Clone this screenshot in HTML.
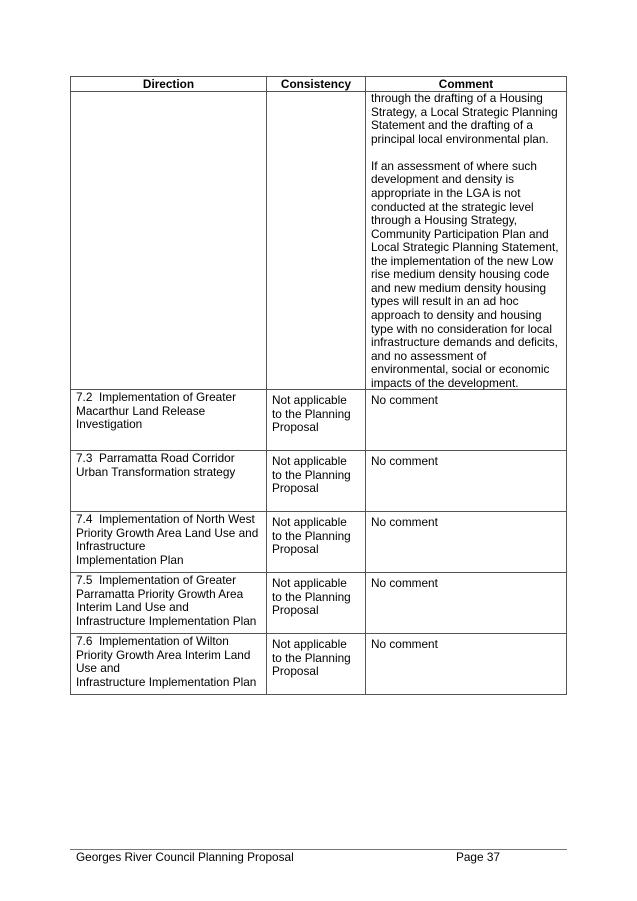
<!DOCTYPE html>
<html><head><style>
body{margin:0;width:637px;height:901px;background:#fff;position:relative;font-family:"Liberation Sans",Arial,sans-serif;font-size:11.8px;color:#000;overflow:hidden}
.h{position:absolute;background:#555}
.t{position:absolute;line-height:13.57px;white-space:nowrap}
.b{font-weight:bold;text-align:center}
</style></head><body>
<div class="h" style="left:70px;top:76px;width:497px;height:1px"></div>
<div class="h" style="left:70px;top:91px;width:497px;height:1px"></div>
<div class="h" style="left:70px;top:389px;width:497px;height:1px"></div>
<div class="h" style="left:70px;top:450px;width:497px;height:1px"></div>
<div class="h" style="left:70px;top:511px;width:497px;height:1px"></div>
<div class="h" style="left:70px;top:572px;width:497px;height:1px"></div>
<div class="h" style="left:70px;top:633px;width:497px;height:1px"></div>
<div class="h" style="left:70px;top:694px;width:497px;height:1px"></div>
<div class="h" style="left:70px;top:76px;width:1px;height:619px"></div>
<div class="h" style="left:266px;top:76px;width:1px;height:619px"></div>
<div class="h" style="left:365px;top:76px;width:1px;height:619px"></div>
<div class="h" style="left:566px;top:76px;width:1px;height:619px"></div>

<div class="t b" style="left:71px;top:78px;width:195px">Direction</div>
<div class="t b" style="left:267px;top:78px;width:98px">Consistency</div>
<div class="t b" style="left:366px;top:78px;width:200px">Comment</div>

<div class="t" style="left:371px;top:92px">through the drafting of a Housing<br>Strategy, a Local Strategic Planning<br>Statement and the drafting of a<br>principal local environmental plan.<br><br>If an assessment of where such<br>development and density is<br>appropriate in the LGA is not<br>conducted at the strategic level<br>through a Housing Strategy,<br>Community Participation Plan and<br>Local Strategic Planning Statement,<br>the implementation of the new Low<br>rise medium density housing code<br>and new medium density housing<br>types will result in an ad hoc<br>approach to density and housing<br>type with no consideration for local<br>infrastructure demands and deficits,<br>and no assessment of<br>environmental, social or economic<br>impacts of the development.</div>

<div class="t" style="left:76px;top:391px">7.2&nbsp; Implementation of Greater<br>Macarthur Land Release<br>Investigation</div>
<div class="t" style="left:272px;top:394px">Not applicable<br>to the Planning<br>Proposal</div>
<div class="t" style="left:371px;top:394px">No comment</div>

<div class="t" style="left:76px;top:452px">7.3&nbsp; Parramatta Road Corridor<br>Urban Transformation strategy</div>
<div class="t" style="left:272px;top:455px">Not applicable<br>to the Planning<br>Proposal</div>
<div class="t" style="left:371px;top:455px">No comment</div>

<div class="t" style="left:76px;top:513px">7.4&nbsp; Implementation of North West<br>Priority Growth Area Land Use and<br>Infrastructure<br>Implementation Plan</div>
<div class="t" style="left:272px;top:516px">Not applicable<br>to the Planning<br>Proposal</div>
<div class="t" style="left:371px;top:516px">No comment</div>

<div class="t" style="left:76px;top:574px">7.5&nbsp; Implementation of Greater<br>Parramatta Priority Growth Area<br>Interim Land Use and<br>Infrastructure Implementation Plan</div>
<div class="t" style="left:272px;top:577px">Not applicable<br>to the Planning<br>Proposal</div>
<div class="t" style="left:371px;top:577px">No comment</div>

<div class="t" style="left:76px;top:635px">7.6&nbsp; Implementation of Wilton<br>Priority Growth Area Interim Land<br>Use and<br>Infrastructure Implementation Plan</div>
<div class="t" style="left:272px;top:638px">Not applicable<br>to the Planning<br>Proposal</div>
<div class="t" style="left:371px;top:638px">No comment</div>

<div class="h" style="left:70px;top:849px;width:497px;height:1px;background:#777"></div>
<div class="t" style="left:76px;top:851px">Georges River Council Planning Proposal</div>
<div class="t" style="left:456px;top:851px">Page 37</div>
</body></html>
